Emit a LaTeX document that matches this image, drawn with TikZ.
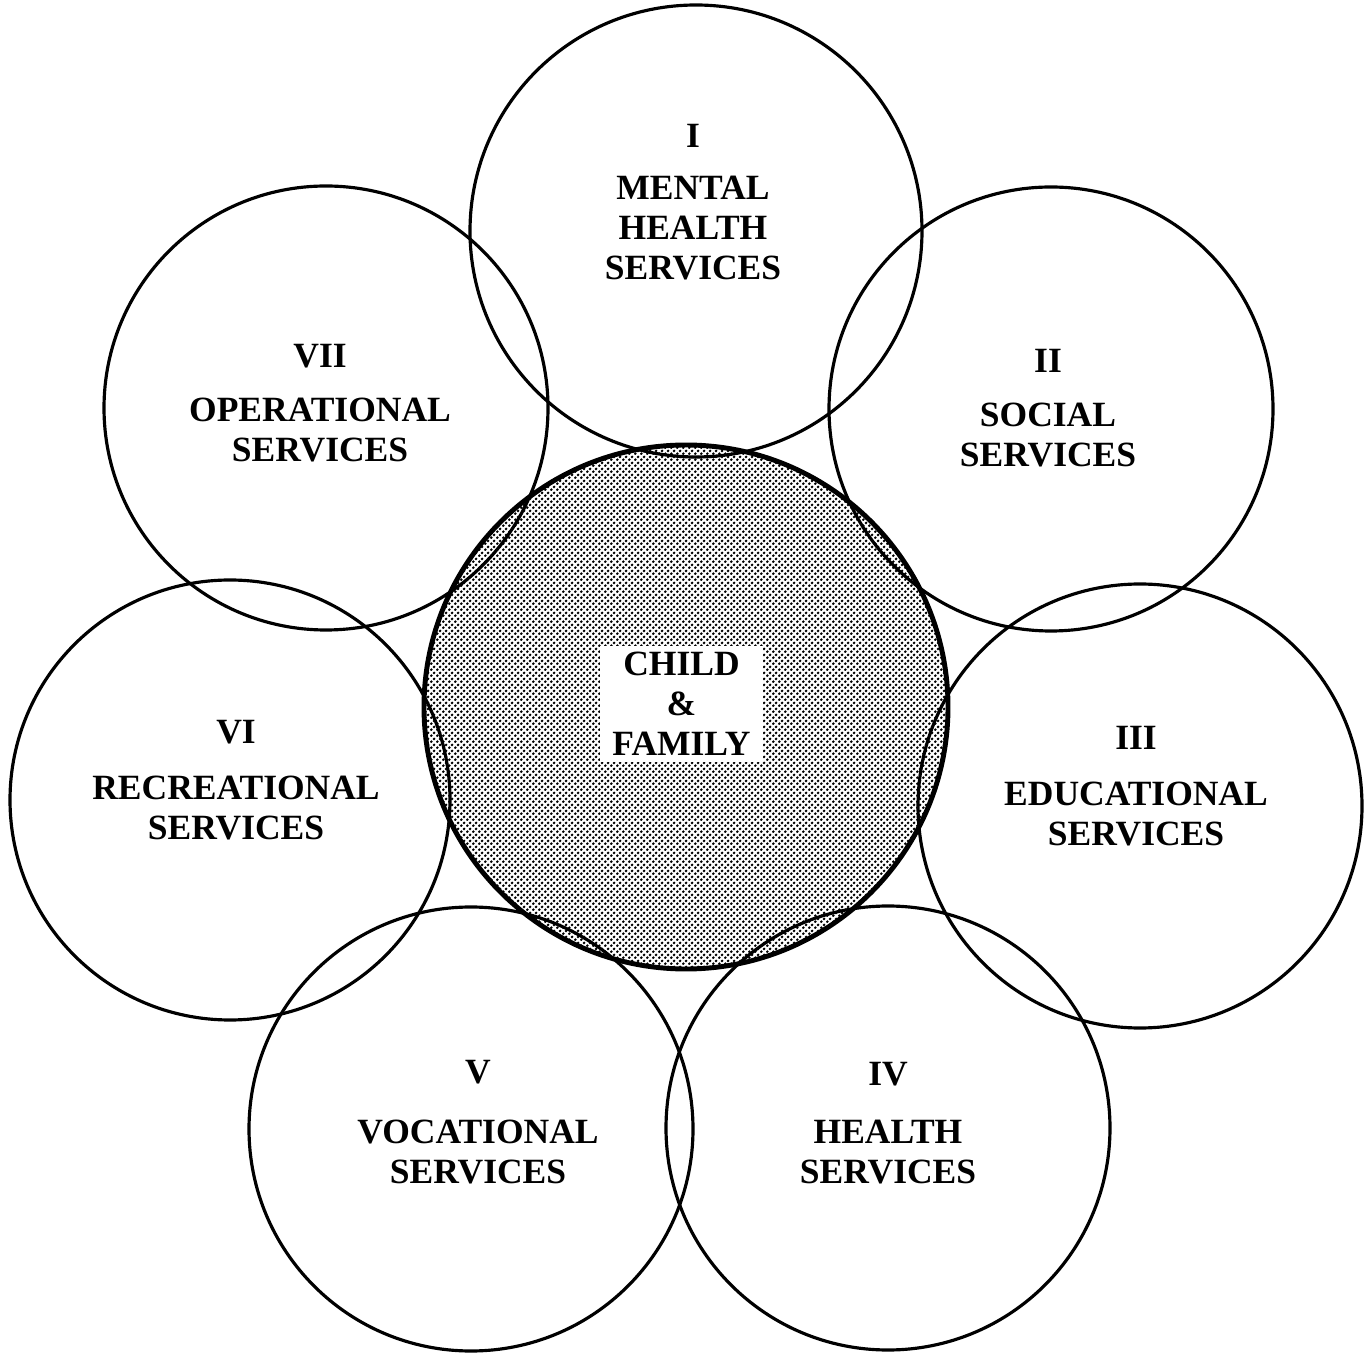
\documentclass[tikz,border=0pt]{standalone}
\usepackage{fontspec}
\setmainfont{Liberation Serif}
\usetikzlibrary{patterns.meta}

\tikzdeclarepattern{
  name=halftone,
  type=uncolored,
  bounding box={(0pt,0pt) and (3.5pt,3.5pt)},
  tile size={(3.5pt,3.5pt)},
  code={
    \fill (0.875pt,0.875pt) circle [radius=0.95pt];
    \fill (2.625pt,2.625pt) circle [radius=0.95pt];
  }
}

\begin{document}
\begin{tikzpicture}[
    ring/.style={draw, line width=1.8pt, circle, inner sep=0pt, minimum size=#1},
    service/.style={align=center, font=\fontsize{20.2}{22.8}\selectfont\bfseries},
  ]
    \useasboundingbox (0,0) rectangle (27.28,27.04);

    % the child and family in the middle
    \node (core) [circle, inner sep=0pt, minimum size=10.48cm, pattern=halftone, pattern color=black] at (13.72,12.90) {};

    % seven services around it
    \node (c1) [ring=9.04cm] at (13.92,22.42) {};
    \node (c2) [ring=8.88cm] at (21.02,18.86) {};
    \node (c3) [ring=8.88cm] at (22.80,10.92) {};
    \node (c4) [ring=8.88cm] at (17.76,4.48) {};
    \node (c5) [ring=8.88cm] at (9.42,4.46) {};
    \node (c6) [ring=8.80cm] at (4.60,11.04) {};
    \node (c7) [ring=8.88cm] at (6.52,18.88) {};

    \draw[line width=2.8pt] (core.center) circle (5.24);

    \node (t1) [service] at (13.86,23.00) {I\\[7pt]MENTAL\\HEALTH\\SERVICES};
    \node (t2) [service] at (20.96,18.88) {II\\[8pt]SOCIAL\\SERVICES};
    \node (t3) [service] at (22.72,11.32) {III\\[9pt]EDUCATIONAL\\SERVICES};
    \node (t4) [service] at (17.76,4.58) {IV\\[10pt]HEALTH\\SERVICES};
    \node (t5) [service] at (9.56,4.60) {V\\[11pt]VOCATIONAL\\SERVICES};
    \node (t6) [service] at (4.72,11.44) {VI\\[9pt]RECREATIONAL\\SERVICES};
    \node (t7) [service] at (6.40,18.98) {VII\\[8pt]OPERATIONAL\\SERVICES};

    \node (kid) [service, fill=white, inner xsep=0.24cm, inner ysep=0.12cm] at (13.63,12.96) {CHILD\\\&\\FAMILY};

\end{tikzpicture}
\end{document}
